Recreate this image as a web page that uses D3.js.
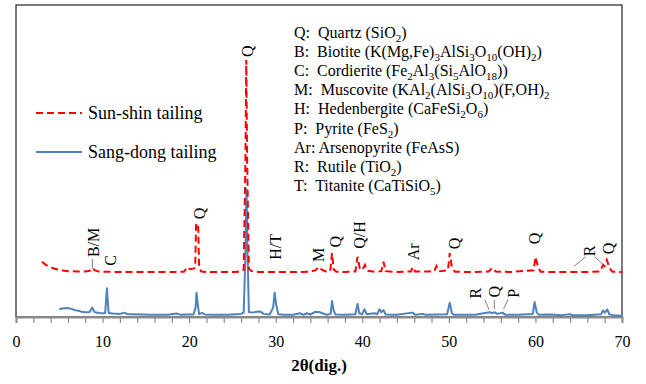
<!DOCTYPE html>
<html>
<head>
<meta charset="utf-8">
<script src="https://cdn.jsdelivr.net/npm/d3@7"></script>
<style>
  body { margin: 0; background: #fff; }
  svg text { font-family: "Liberation Serif", "Times New Roman", serif; fill: #000; }
</style>
</head>
<body>
<div id="chart"></div>
<script>
// 2theta (deg) and intensity (a.u., offset pattern) for Sun-shin tailing
const sunShinAngle = [3.0, 3.4, 3.8, 4.3, 4.8, 5.4, 6.0, 7.0, 8.0, 8.5, 8.8, 9.1, 9.5, 10.5, 12, 14, 16, 18, 19.4, 19.8, 20.1, 20.5, 20.7, 20.8, 20.95, 21.05, 21.15, 21.4, 22, 24, 26.0, 26.3, 26.5, 26.6, 26.7, 26.9, 27.2, 28, 30, 32, 34, 34.6, 35.0, 35.3, 35.8, 36.3, 36.5, 36.7, 37.0, 38, 39.2, 39.45, 39.7, 40.0, 40.3, 40.6, 41.5, 42.2, 42.45, 42.7, 44, 45.6, 45.85, 46.1, 48.3, 48.55, 48.8, 49.9, 50.1, 50.35, 50.7, 53, 54.6, 55.0, 55.4, 57, 59.8, 60.0, 60.3, 60.6, 63, 66, 67.5, 67.8, 68.0, 68.25, 68.55, 68.9, 70];
const sunShinCounts = [177, 168, 162, 156, 152, 149, 147, 146, 146, 148, 157, 150, 146, 145, 144, 144, 144, 144, 145, 160, 153, 155, 158, 295, 301, 285, 158, 146, 144, 144, 145, 152, 500, 824, 500, 155, 147, 144, 144, 144, 145, 150, 161, 152, 146, 147, 205, 152, 145, 144, 146, 193, 157, 150, 167, 148, 145, 147, 177, 147, 144, 146, 160, 146, 146, 163, 146, 150, 205, 160, 145, 144, 146, 157, 146, 144, 150, 193, 160, 145, 144, 144, 146, 167, 163, 183, 157, 145, 144];

// 2theta (deg) and intensity (a.u.) for Sang-dong tailing
const sangDongAngle = [5.0, 5.3, 5.6, 6.0, 6.4, 6.8, 7.2, 7.6, 8.0, 8.5, 8.8, 9.1, 9.6, 10.0, 10.3, 10.5, 10.7, 11.2, 12.0, 12.5, 12.8, 13.5, 14.5, 15.5, 16.5, 17.5, 18.6, 19.0, 19.8, 20.5, 20.75, 20.85, 21.0, 21.15, 21.5, 21.8, 23, 24.5, 25.3, 26.0, 26.3, 26.5, 26.62, 26.75, 26.9, 27.3, 27.8, 28.2, 28.6, 29.3, 29.7, 29.88, 30.05, 30.3, 31, 32, 32.8, 33.2, 33.6, 34.0, 34.6, 35.0, 35.4, 35.9, 36.35, 36.5, 36.7, 36.9, 38, 39.2, 39.45, 39.65, 40.0, 40.25, 40.5, 41.4, 41.7, 42.0, 42.2, 42.45, 42.7, 44, 45.8, 46.1, 47, 47.3, 49.8, 50.1, 50.35, 50.6, 53, 54.7, 55.0, 55.3, 55.6, 56.2, 56.5, 58, 59.7, 59.9, 60.15, 60.4, 61.8, 63, 64, 64.3, 66, 67.6, 67.8, 68.0, 68.3, 68.55, 69, 70];
const sangDongCounts = [25, 27, 28, 29, 26, 22, 20, 17, 15, 16, 30, 15, 13, 12, 13, 92, 13, 11, 10, 14, 10, 9, 8, 7, 7, 7, 11, 7, 8, 8, 30, 78, 40, 9, 13, 8, 7, 7, 9, 10, 14, 200, 410, 200, 16, 14, 17, 18, 10, 8, 30, 78, 40, 9, 7, 7, 12, 7, 12, 8, 17, 16, 12, 7, 10, 51, 20, 8, 7, 9, 42, 12, 9, 25, 9, 12, 9, 25, 15, 22, 8, 7, 14, 7, 10, 7, 9, 46, 12, 7, 7, 15, 13, 15, 10, 14, 7, 7, 10, 48, 15, 7, 8, 6, 9, 6, 6, 9, 21, 14, 24, 8, 6, 4];

const xTicks = d3.range(0, 71, 2);
const xLabels = [0, 10, 20, 30, 40, 50, 60, 70];

// phase labels: text, 2theta, intensity where the label sits
const peakLabels = [
  { text: 'Q', angle: 26.7, level: 852 },
  { text: 'B/M', angle: 9.0, level: 239 },
  { text: 'C', angle: 10.86, level: 181 },
  { text: 'Q', angle: 21.2, level: 332 },
  { text: 'H/T', angle: 30.0, level: 225 },
  { text: 'M', angle: 34.9, level: 199 },
  { text: 'Q', angle: 36.85, level: 241 },
  { text: 'Q/H', angle: 39.66, level: 263 },
  { text: 'Ar', angle: 45.9, level: 209 },
  { text: 'Q', angle: 50.6, level: 236 },
  { text: 'Q', angle: 59.95, level: 252 },
  { text: 'R', angle: 66.3, level: 212 },
  { text: 'Q', angle: 68.42, level: 220 },
  { text: 'R', angle: 53.1, level: 76 },
  { text: 'Q', angle: 55.33, level: 81 },
  { text: 'P', angle: 57.44, level: 76 }
];

// leader lines [angle1, level1, angle2, level2]
const leaderLines = [
  [8.82, 186, 8.82, 155],
  [65.8, 193, 64.45, 162],
  [66.85, 193, 67.8, 168],
  [54.15, 55, 54.65, 23],
  [55.25, 55, 55.25, 25],
  [56.85, 56, 56.3, 25]
];

// phase legend lines: [symbol, name, [[formula text, isSubscript], ...]]
const phases = [
  ['Q:  ', 'Quartz ', [['(SiO', 0], ['2', 1], [')', 0]]],
  ['B:  ', 'Biotite ', [['(K(Mg,Fe)', 0], ['3', 1], ['AlSi', 0], ['3', 1], ['O', 0], ['10', 1], ['(OH)', 0], ['2', 1], [')', 0]]],
  ['C:  ', 'Cordierite ', [['(Fe', 0], ['2', 1], ['Al', 0], ['3', 1], ['(Si', 0], ['5', 1], ['AlO', 0], ['18', 1], ['))', 0]]],
  ['M:  ', 'Muscovite ', [['(KAl', 0], ['2', 1], ['(AlSi', 0], ['3', 1], ['O', 0], ['10', 1], [')(F,OH)', 0], ['2', 1]]],
  ['H:  ', 'Hedenbergite ', [['(CaFeSi', 0], ['2', 1], ['O', 0], ['6', 1], [')', 0]]],
  ['P:  ', 'Pyrite ', [['(FeS', 0], ['2', 1], [')', 0]]],
  ['Ar: ', 'Arsenopyrite ', [['(FeAsS)', 0]]],
  ['R:  ', 'Rutile ', [['(TiO', 0], ['2', 1], [')', 0]]],
  ['T:  ', 'Titanite ', [['(CaTiSiO', 0], ['5', 1], [')', 0]]]
];

const width = 646, height = 384;
const margin = { top: 5, right: 24, bottom: 67, left: 16 };
const plotW = width - margin.left - margin.right;
const plotH = height - margin.top - margin.bottom;

const svg = d3.select('#chart').append('svg')
  .attr('width', width)
  .attr('height', height);

const g = svg.append('g')
  .attr('transform', `translate(${margin.left}, ${margin.top})`);

const x = d3.scaleLinear().domain([0, 70]).range([0, plotW]);
const y = d3.scaleLinear().domain([0, 1000]).range([plotH, 0]);

// frame
g.append('rect')
  .attr('width', plotW)
  .attr('height', plotH)
  .attr('fill', '#fff')
  .attr('stroke', '#222')
  .attr('stroke-width', 1.2);

// x axis
const xAxis = g.append('g')
  .attr('transform', `translate(0, ${plotH})`)
  .call(d3.axisBottom(x)
    .tickValues(xTicks)
    .tickSize(6)
    .tickFormat(d => xLabels.includes(d) ? d : ''));
xAxis.select('.domain').attr('stroke', '#8c8c8c').attr('stroke-width', 2);
xAxis.selectAll('.tick line').attr('stroke', '#8c8c8c').attr('stroke-width', 1.2);
xAxis.selectAll('.tick text')
  .attr('font-size', '16px')
  .attr('font-family', '"Liberation Serif", "Times New Roman", serif')
  .attr('dy', '1.3em');

g.append('text')
  .attr('x', plotW / 2)
  .attr('y', plotH + 54)
  .attr('text-anchor', 'middle')
  .attr('font-size', '17px')
  .attr('font-weight', 'bold')
  .text('2θ(dig.)');

// patterns
const line = d3.line()
  .x(d => x(d[0]))
  .y(d => y(d[1]));

const sangDong = sangDongAngle.map((a, i) => [a, sangDongCounts[i]]);
const sunShin = sunShinAngle.map((a, i) => [a, sunShinCounts[i]]);

g.append('path')
  .datum(sangDong)
  .attr('d', line)
  .attr('fill', 'none')
  .attr('stroke', '#4f81bd')
  .attr('stroke-width', 2)
  .attr('stroke-linejoin', 'round');

g.append('path')
  .datum(sunShin)
  .attr('d', line)
  .attr('fill', 'none')
  .attr('stroke', '#ff0000')
  .attr('stroke-width', 2)
  .attr('stroke-dasharray', '7,4');

// peak labels
g.selectAll('.peak-label')
  .data(peakLabels)
  .enter().append('text')
  .attr('class', 'peak-label')
  .attr('transform', d => `translate(${x(d.angle)}, ${y(d.level)}) rotate(-90)`)
  .attr('text-anchor', 'middle')
  .attr('dominant-baseline', 'central')
  .attr('font-size', '16px')
  .text(d => d.text);

g.selectAll('.leader')
  .data(leaderLines)
  .enter().append('line')
  .attr('class', 'leader')
  .attr('x1', d => x(d[0]))
  .attr('y1', d => y(d[1]))
  .attr('x2', d => x(d[2]))
  .attr('y2', d => y(d[3]))
  .attr('stroke', '#7f7f7f')
  .attr('stroke-width', 1);

// series legend
const legend = [
  { name: 'Sun-shin tailing', color: '#ff0000', dash: '7,4', y: 108 },
  { name: 'Sang-dong tailing', color: '#4f81bd', dash: null, y: 147 }
];
legend.forEach(l => {
  g.append('line')
    .attr('x1', 20).attr('x2', 66)
    .attr('y1', l.y).attr('y2', l.y)
    .attr('stroke', l.color)
    .attr('stroke-width', 2)
    .attr('stroke-dasharray', l.dash);
  g.append('text')
    .attr('x', 72)
    .attr('y', l.y + 6)
    .attr('font-size', '18px')
    .text(l.name);
});

// phase key
const key = g.append('text')
  .attr('font-size', '16px')
  .attr('xml:space', 'preserve')
  .style('white-space', 'pre');
phases.forEach((p, i) => {
  const row = key.append('tspan')
    .attr('x', 278)
    .attr('y', 33 + i * 19.1)
    .text(p[0] + p[1]);
  p[2].forEach(part => {
    const t = key.append('tspan').text(part[0]);
    if (part[1]) {
      t.attr('font-size', '11px').attr('dy', 4);
    } else if (row.node().nextSibling !== t.node() && t.node().previousSibling.getAttribute('font-size')) {
      t.attr('dy', -4);
    }
  });
});
</script>
</body>
</html>
